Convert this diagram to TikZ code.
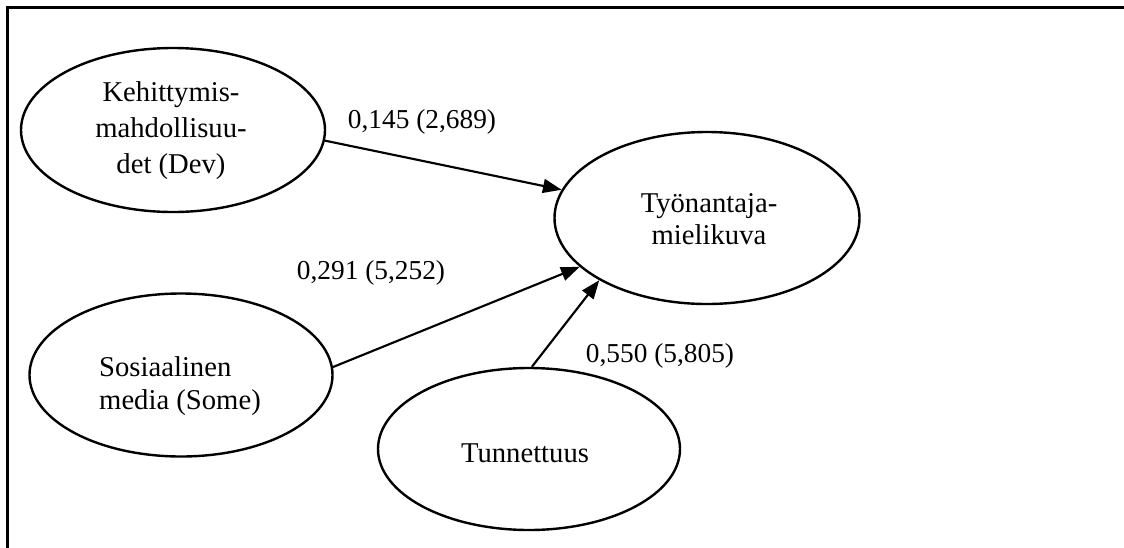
\documentclass[tikz,border=0pt]{standalone}
\usepackage{fontspec}
\setmainfont{Liberation Serif}
\usetikzlibrary{shapes.geometric,arrows.meta}
\tikzset{
  ell/.style={draw, ellipse, line width=1.8pt, inner sep=0pt},
  txt/.style={font=\fontsize{21.5}{24.5}\selectfont, inner sep=0pt},
  conn/.style={line width=1.6pt, -{Triangle[length=14pt,width=10.5pt]}},
  lab/.style={font=\fontsize{20.5}{27}\selectfont, inner sep=0pt},
  frame/.style={line width=2pt}
}
\begin{document}
\begin{tikzpicture}[x=0.75pt,y=-0.75pt]
\useasboundingbox (0,0) rectangle (1124,547);
\draw[frame] (7.5,560) -- (7.5,7.5) -- (1140,7.5);
\node[ell, minimum width=304*0.75pt, minimum height=164*0.75pt] (dev) at (173,130) {};
\node[txt, align=center, font=\fontsize{21.5}{27}\selectfont] (devT) at (171,131) {Kehittymis-\\mahdollisuu-\\det (Dev)};
\node[ell, minimum width=305*0.75pt, minimum height=172*0.75pt] (tyo) at (707,218) {};
\node[txt, align=center] (tyoT) at (709,219) {Työnantaja-\\mielikuva};
\node[ell, minimum width=303*0.75pt, minimum height=163*0.75pt] (some) at (181,375) {};
\node[txt, align=left] (someT) at (180,386) {Sosiaalinen\\media (Some)};
\node[ell, minimum width=302*0.75pt, minimum height=162*0.75pt] (tun) at (529,449) {};
\node[txt] (tunT) at (525,453) {Tunnettuus};
\draw[conn] (dev.-4) -- (tyo.169);
\draw[conn] (some.3) -- (tyo.201);
\draw[conn] (tun.88) -- (tyo.210);
\node[lab] (l1) at (422,122) {0,145 (2,689)};
\node[lab] (l2) at (371,273) {0,291 (5,252)};
\node[lab] (l3) at (660,356) {0,550 (5,805)};
\end{tikzpicture}
\end{document}
